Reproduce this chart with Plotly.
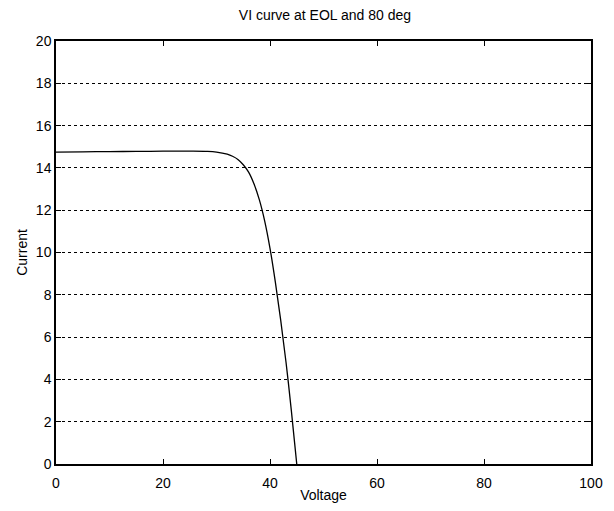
import plotly.graph_objects as go

voltage = [0, 5, 10, 15, 20, 25, 28, 30, 32, 33, 34, 35, 36, 37, 38, 39, 40, 41, 42, 43, 44, 44.6, 45]
current = [14.75, 14.76, 14.77, 14.78, 14.79, 14.79, 14.78, 14.75, 14.65, 14.55, 14.4, 14.15, 13.8, 13.25, 12.5, 11.5, 10.2, 8.6, 6.8, 4.8, 2.5, 1.0, 0.0]

x_ticks = [0, 20, 40, 60, 80, 100]
y_ticks = [0, 2, 4, 6, 8, 10, 12, 14, 16, 18, 20]

fig = go.Figure()
fig.add_trace(go.Scatter(x=voltage, y=current, mode="lines", line=dict(color="black", width=1.3, shape="spline"), showlegend=False))

axis_common = dict(showline=True, linecolor="black", linewidth=1.5, mirror="ticks", ticks="inside",
                   ticklen=5, tickcolor="black", gridcolor="black", griddash="dot",
                   gridwidth=1, zeroline=False, automargin=False,
                   tickfont=dict(size=14, color="black"))

fig.update_xaxes(range=[0, 100], tickvals=x_ticks, showgrid=False, ticklabelstandoff=5,
                 title=dict(text="Voltage", font=dict(size=14, color="black"), standoff=2), **axis_common)
fig.update_yaxes(range=[0, 20], tickvals=y_ticks, showgrid=True,
                 title=dict(text="Current", font=dict(size=14, color="black"), standoff=5), **axis_common)

fig.update_layout(
    width=598, height=495,
    margin=dict(l=48, r=15, t=33, b=39),
    paper_bgcolor="white", plot_bgcolor="white",
    font=dict(family="Liberation Sans, Arial, sans-serif", color="black"),
    title=dict(text="VI curve at EOL and 80 deg", x=0.53, xanchor="center", y=0.995, yanchor="top",
               font=dict(size=14, color="black")),
)
fig.write_html("out.html")
